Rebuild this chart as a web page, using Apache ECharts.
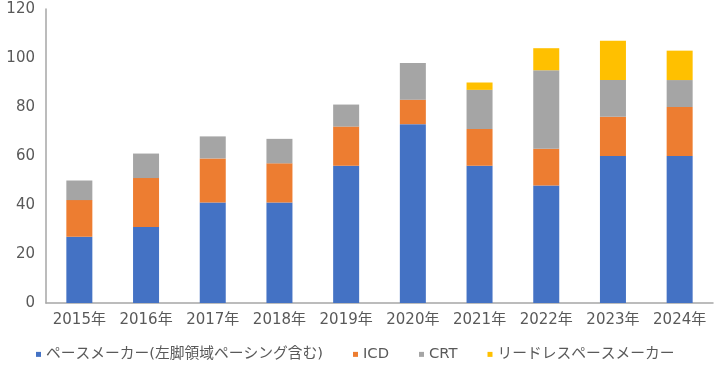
<!DOCTYPE html>
<html><head><meta charset="utf-8">
<script src="https://cdn.jsdelivr.net/npm/echarts@6/dist/echarts.min.js"></script>
<style>html,body{margin:0;padding:0;background:#fff}#c{width:716px;height:371px}</style>
</head><body><div id="c"></div>
<script>
const categories = ['2015年','2016年','2017年','2018年','2019年','2020年','2021年','2022年','2023年','2024年'];
const pacemaker = [27,31,41,41,56,73,56,48,60,60];
const icd = [15,20,18,16,16,10,15,15,16,20];
const crt = [8,10,9,10,9,15,16,32,15,11];
const leadless = [0,0,0,0,0,0,3,9,16,12];
const seriesNames = ['ペースメーカー(左脚領域ペーシング含む)','ICD','CRT','リードレスペースメーカー'];
const colors = ['#4472C4','#ED7D31','#A5A5A5','#FFC000'];
const yTicks = {min:0,max:120,interval:20};

const font = "'DejaVu Sans','Noto Sans CJK JP',sans-serif";
const chart = echarts.init(document.getElementById('c'));
const dataArr = [pacemaker, icd, crt, leadless];
chart.setOption({
  animation:false,
  grid:{left:46,right:3,top:9,bottom:68},
  legend:{
    left:31, top:342, itemWidth:5, itemHeight:5, itemGap:30, icon:'rect',
    textStyle:{fontFamily:font,fontSize:14.75,color:'#595959'},
    data:seriesNames
  },
  xAxis:{
    type:'category', data:categories,
    axisLine:{lineStyle:{color:'#A6A6A6',width:1.5}},
    axisTick:{show:false},
    axisLabel:{interval:0,margin:10,fontFamily:font,fontSize:15,color:'#595959'}
  },
  yAxis:{
    type:'value', min:yTicks.min, max:yTicks.max, interval:yTicks.interval,
    axisLine:{show:true,lineStyle:{color:'#A6A6A6',width:1.5}},
    axisTick:{show:false},
    splitLine:{show:false},
    axisLabel:{margin:11,fontFamily:font,fontSize:15,color:'#595959'}
  },
  series: dataArr.map((d,i)=>({
    name:seriesNames[i], type:'bar', stack:'total', barWidth:26,
    itemStyle:{color:colors[i]},
    data:d.map(v=>v===0?null:v)
  }))
});
</script></body></html>
